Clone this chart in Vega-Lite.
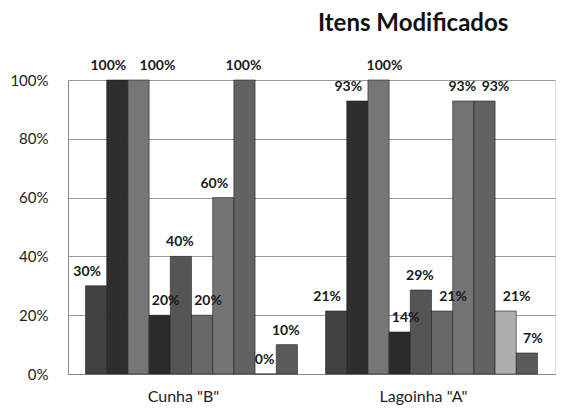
{
  "$schema": "https://vega.github.io/schema/vega-lite/v6.json",
  "width": 487,
  "height": 294,
  "autosize": "none",
  "padding": {"left": 68, "top": 80, "right": 6, "bottom": 35},
  "background": "white",
  "title": {
    "text": "Itens Modificados",
    "anchor": "start",
    "frame": "group",
    "dx": 250,
    "offset": 23,
    "font": "Lato",
    "fontSize": 24,
    "fontWeight": "bold",
    "color": "#111"
  },
  "data": {
    "values": [
      {"grupo": "Cunha \"B\"", "serie": "s01", "valor": 0.30},
      {"grupo": "Cunha \"B\"", "serie": "s02", "valor": 1.00},
      {"grupo": "Cunha \"B\"", "serie": "s03", "valor": 1.00},
      {"grupo": "Cunha \"B\"", "serie": "s04", "valor": 0.20},
      {"grupo": "Cunha \"B\"", "serie": "s05", "valor": 0.40},
      {"grupo": "Cunha \"B\"", "serie": "s06", "valor": 0.20},
      {"grupo": "Cunha \"B\"", "serie": "s07", "valor": 0.60},
      {"grupo": "Cunha \"B\"", "serie": "s08", "valor": 1.00},
      {"grupo": "Cunha \"B\"", "serie": "s09", "valor": 0.00},
      {"grupo": "Cunha \"B\"", "serie": "s10", "valor": 0.10},
      {"grupo": "Lagoinha \"A\"", "serie": "s01", "valor": 0.2143},
      {"grupo": "Lagoinha \"A\"", "serie": "s02", "valor": 0.9286},
      {"grupo": "Lagoinha \"A\"", "serie": "s03", "valor": 1.00},
      {"grupo": "Lagoinha \"A\"", "serie": "s04", "valor": 0.1429},
      {"grupo": "Lagoinha \"A\"", "serie": "s05", "valor": 0.2857},
      {"grupo": "Lagoinha \"A\"", "serie": "s06", "valor": 0.2143},
      {"grupo": "Lagoinha \"A\"", "serie": "s07", "valor": 0.9286},
      {"grupo": "Lagoinha \"A\"", "serie": "s08", "valor": 0.9286},
      {"grupo": "Lagoinha \"A\"", "serie": "s09", "valor": 0.2143},
      {"grupo": "Lagoinha \"A\"", "serie": "s10", "valor": 0.0714}
    ]
  },
  "encoding": {
    "x": {
      "field": "grupo",
      "type": "nominal",
      "sort": null,
      "scale": {"paddingInner": 0.117, "paddingOuter": 0.073},
      "axis": {
        "title": null,
        "labelAngle": 0,
        "labelFont": "Lato",
        "labelFontSize": 16,
        "labelColor": "#222",
        "labelPadding": 14,
        "labelOffset": -8,
        "ticks": false,
        "domain": true,
        "domainColor": "#888",
        "grid": false
      }
    },
    "xOffset": {
      "field": "serie",
      "type": "nominal",
      "sort": null,
      "scale": {"paddingInner": 0, "paddingOuter": 0}
    },
    "y": {
      "field": "valor",
      "type": "quantitative",
      "scale": {"domain": [0, 1], "nice": false},
      "axis": {
        "title": null,
        "format": ".0%",
        "values": [0, 0.2, 0.4, 0.6, 0.8, 1],
        "labelFont": "Lato",
        "labelFontSize": 15,
        "labelColor": "#222",
        "labelPadding": 20,
        "ticks": false,
        "domain": true,
        "domainColor": "#888",
        "grid": true,
        "gridColor": "#999",
        "gridWidth": 1
      }
    }
  },
  "layer": [
    {
      "mark": {"type": "bar", "stroke": "#222", "strokeWidth": 0.6},
      "encoding": {
        "color": {
          "field": "serie",
          "type": "nominal",
          "legend": null,
          "scale": {
            "domain": ["s01", "s02", "s03", "s04", "s05", "s06", "s07", "s08", "s09", "s10"],
            "range": ["#424242", "#2e2e2e", "#767676", "#2a2a2a", "#555555", "#686868", "#747474", "#626262", "#aeaeae", "#5a5a5a"]
          }
        }
      }
    },
    {
      "transform": [{"filter": "(test(/^Cunha/, datum.grupo) && test(/^s0[127]$/, datum.serie)) || (test(/^Lagoinha/, datum.grupo) && test(/^s0[12]$/, datum.serie))"}],
      "mark": {"type": "text", "baseline": "bottom", "dx": -9, "dy": -7, "font": "Lato", "fontSize": 14, "fontWeight": "bold", "color": "#1a1a1a"},
      "encoding": {"text": {"field": "valor", "type": "quantitative", "format": ".0%"}}
    },
    {
      "transform": [{"filter": "(test(/^Cunha/, datum.grupo) && test(/^(s05|s08|s09|s10)$/, datum.serie)) || (test(/^Lagoinha/, datum.grupo) && test(/^s0[57]$/, datum.serie))"}],
      "mark": {"type": "text", "baseline": "bottom", "dx": -1, "dy": -7, "font": "Lato", "fontSize": 14, "fontWeight": "bold", "color": "#1a1a1a"},
      "encoding": {"text": {"field": "valor", "type": "quantitative", "format": ".0%"}}
    },
    {
      "transform": [{"filter": "(test(/^Cunha/, datum.grupo) && test(/^s0[46]$/, datum.serie)) || (test(/^Lagoinha/, datum.grupo) && test(/^(s03|s04|s10)$/, datum.serie))"}],
      "mark": {"type": "text", "baseline": "bottom", "dx": 6, "dy": -7, "font": "Lato", "fontSize": 14, "fontWeight": "bold", "color": "#1a1a1a"},
      "encoding": {"text": {"field": "valor", "type": "quantitative", "format": ".0%"}}
    },
    {
      "transform": [{"filter": "test(/^Lagoinha/, datum.grupo) && test(/^(s06|s08|s09)$/, datum.serie)"}],
      "mark": {"type": "text", "baseline": "bottom", "dx": 11, "dy": -7, "font": "Lato", "fontSize": 14, "fontWeight": "bold", "color": "#1a1a1a"},
      "encoding": {"text": {"field": "valor", "type": "quantitative", "format": ".0%"}}
    },
    {
      "transform": [{"filter": "test(/^Cunha/, datum.grupo) && datum.serie == 's03'"}],
      "mark": {"type": "text", "baseline": "bottom", "dx": 19, "dy": -7, "font": "Lato", "fontSize": 14, "fontWeight": "bold", "color": "#1a1a1a"},
      "encoding": {"text": {"field": "valor", "type": "quantitative", "format": ".0%"}}
    }
  ]
}
